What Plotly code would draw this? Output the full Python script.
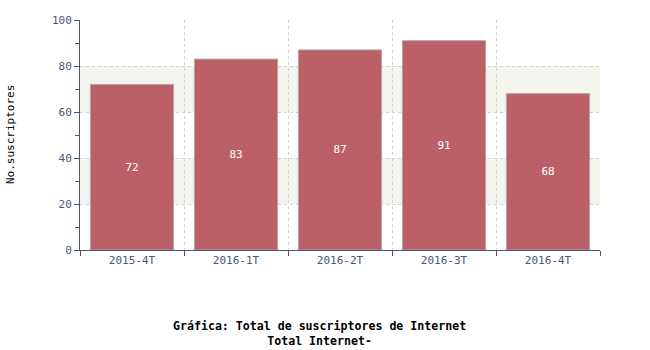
import plotly.graph_objects as go

categories = ["2015-4T", "2016-1T", "2016-2T", "2016-3T", "2016-4T"]
values = [72, 83, 87, 91, 68]
y_ticks = [0, 20, 40, 60, 80, 100]

axis_color = "#4a5578"
grid_color = "#d2d2d2"
mono = "DejaVu Sans Mono"

fig = go.Figure()
fig.add_trace(go.Bar(
    x=categories, y=values, text=[str(v) for v in values],
    textposition="inside", insidetextanchor="middle",
    textfont=dict(color="white", size=11, family=mono),
    marker=dict(color="#bc6068", line=dict(color="#b4a4a6", width=1)),
    width=0.8, hoverinfo="skip",
))

for y0, y1 in [(20, 40), (60, 80)]:
    fig.add_shape(type="rect", xref="paper", yref="y", x0=0, x1=1, y0=y0, y1=y1,
                  fillcolor="#f5f5f0", line_width=0, layer="below")

fig.update_layout(
    width=650, height=350,
    margin=dict(l=80, r=50, t=20, b=100),
    plot_bgcolor="white", paper_bgcolor="white",
    showlegend=False,
    font=dict(family=mono, size=11, color=axis_color),
    xaxis=dict(
        type="category", tickson="boundaries", range=[-0.5, 4.5],
        showline=True, linecolor=axis_color, linewidth=1,
        ticks="outside", ticklen=5, tickcolor=axis_color,
        showgrid=True, gridcolor=grid_color, griddash="dot", gridwidth=1,
        tickfont=dict(family=mono, size=11, color=axis_color),
    ),
    yaxis=dict(
        range=[0, 100], tickvals=y_ticks,
        showline=True, linecolor=axis_color, linewidth=1,
        ticks="outside", ticklen=5, tickcolor=axis_color,
        showgrid=True, gridcolor=grid_color, griddash="dot", gridwidth=1,
        zeroline=False, automargin=False,
        minor=dict(dtick=10, ticks="outside", ticklen=4, tickcolor=axis_color, showgrid=False),
        tickfont=dict(family=mono, size=11, color=axis_color),
    ),
)

fig.add_annotation(
    xref="paper", yref="paper", x=0, y=0.5, xshift=-70, xanchor="center", yanchor="middle",
    text="No.suscriptores", textangle=-90, showarrow=False,
    font=dict(family=mono, size=11, color="black"),
)

fig.add_annotation(
    xref="paper", yref="paper", x=0.46, y=-0.29, xanchor="center", yanchor="top",
    text="<b>Gráfica: Total de suscriptores de Internet</b><br><b>Total Internet-</b>",
    showarrow=False, align="center",
    font=dict(family=mono, size=11.6, color="black"),
)

fig.write_html("out.html")
